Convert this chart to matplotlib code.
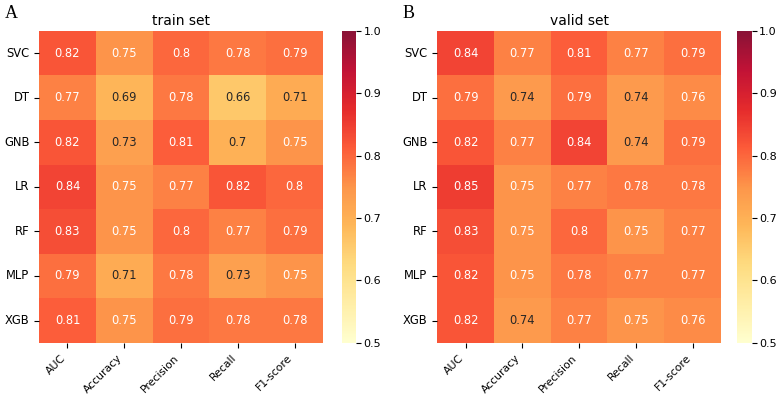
import numpy as np
import pandas as pd
import seaborn as sns
import matplotlib
matplotlib.use("Agg")
import matplotlib.pyplot as plt

models = ["SVC", "DT", "GNB", "LR", "RF", "MLP", "XGB"]
metrics = ["AUC", "Accuracy", "Precision", "Recall", "F1-score"]

train_scores = [
    [0.82, 0.75, 0.80, 0.78, 0.79],
    [0.77, 0.69, 0.78, 0.66, 0.71],
    [0.82, 0.73, 0.81, 0.70, 0.75],
    [0.84, 0.75, 0.77, 0.82, 0.80],
    [0.83, 0.75, 0.80, 0.77, 0.79],
    [0.79, 0.71, 0.78, 0.73, 0.75],
    [0.81, 0.75, 0.79, 0.78, 0.78],
]
valid_scores = [
    [0.84, 0.77, 0.81, 0.77, 0.79],
    [0.79, 0.74, 0.79, 0.74, 0.76],
    [0.82, 0.77, 0.84, 0.74, 0.79],
    [0.85, 0.75, 0.77, 0.78, 0.78],
    [0.83, 0.75, 0.80, 0.75, 0.77],
    [0.82, 0.75, 0.78, 0.77, 0.77],
    [0.82, 0.74, 0.77, 0.75, 0.76],
]

fig = plt.figure(figsize=(7.82, 3.95), dpi=100)

panels = [
    ("A", "train set", train_scores, 0.050, 0.437),
    ("B", "valid set", valid_scores, 0.559, 0.943),
]
bottom, height = 0.132, 0.790

for letter, title, scores, x0, cx0 in panels:
    ax = fig.add_axes([x0, bottom, 0.363, height])
    cax = fig.add_axes([cx0, bottom, 0.018, height])
    df = pd.DataFrame(scores, index=models, columns=metrics)
    sns.heatmap(df, ax=ax, cbar_ax=cax, cmap="YlOrRd", vmin=0.5, vmax=1.0,
                alpha=0.93, annot=True, fmt=".2g", annot_kws={"fontsize": 8.3})
    ax.set_title(title, fontsize=10, pad=4)
    ax.set_xticklabels(metrics, rotation=45, ha="right", fontsize=7.8)
    ax.set_yticklabels(models, rotation=0, fontsize=8.3)
    cax.tick_params(labelsize=8, pad=2)
    cax.set_yticks([0.5, 0.6, 0.7, 0.8, 0.9, 1.0])
    fig.text(x0 - 0.044, 0.965, letter, family="Liberation Serif",
             fontsize=13, va="center", ha="left")

fig.savefig("out.png", dpi=100)
